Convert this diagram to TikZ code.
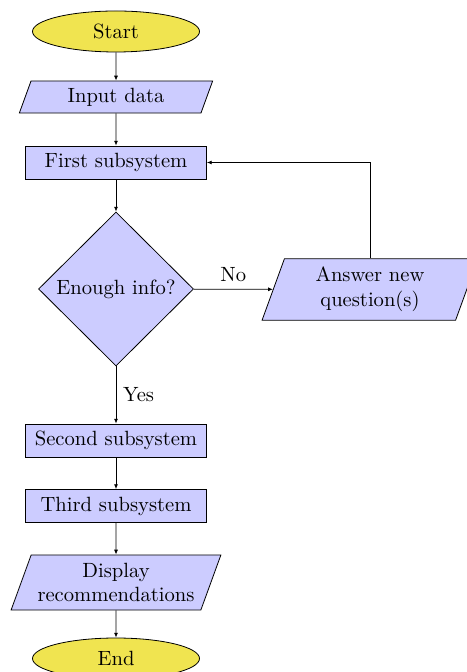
\documentclass[tikz,border=0pt]{standalone}
\definecolor{termyellow}{RGB}{240, 228, 80}
\definecolor{boxblue}{RGB}{204, 204, 255}
\usepackage{tikz}
\usetikzlibrary{shapes, shapes.geometric, arrows.meta, positioning}

\begin{document}
\begin{tikzpicture}[x=0.5pt, y=-0.5pt, font=\fontsize{10.3pt}{12.4pt}\selectfont,
  term/.style={ellipse, draw, fill=termyellow, minimum width=83.5pt, minimum height=20.5pt, inner sep=0pt},
  proc/.style={rectangle, draw, fill=boxblue, minimum width=90.5pt, minimum height=16.5pt, inner sep=0pt},
  io/.style={trapezium, trapezium left angle=70, trapezium right angle=110, draw, fill=boxblue, inner sep=0pt, align=center},
  decide/.style={diamond, draw, fill=boxblue, minimum width=77.5pt, minimum height=77pt, inner sep=0pt},
  flow/.style={-{Latex[length=2.4pt, width=2pt]}}]
  \useasboundingbox (0,0) rectangle (466,672);
  \node[term] (start) at (116, 31.5) {Start};
  \node[io, minimum width=97.5pt, minimum height=16pt] (input) at (116, 97) {Input data};
  \node[proc] (first) at (116, 162.5) {First subsystem};
  \node[decide] (info) at (116, 289) {Enough info?};
  \node[io, inner ysep=-2.5pt, inner xsep=-3pt, minimum width=108pt, minimum height=29.5pt] (answer) at (370, 289.5) {Answer new\\question(s)};
  \node[proc] (second) at (116, 440.5) {Second subsystem};
  \node[proc] (third) at (116, 506) {Third subsystem};
  \node[io, inner xsep=-9pt, minimum width=105pt, minimum height=27.5pt] (display) at (116, 582.5) {Display\\recommendations};
  \node[term] (end) at (116, 658.5) {End};
  % connectors
  \draw[flow] (start) -- (input);
  \draw[flow] (input) -- (first);
  \draw[flow] (first) -- (info);
  \draw[flow] (info) -- node[above] {No} (answer);
  \draw[flow] (answer.north) |- (first.east);
  \draw[flow] (info) -- node[right] {Yes} (second);
  \draw[flow] (second) -- (third);
  \draw[flow] (third) -- (display);
  \draw[flow] (display) -- (end);
\end{tikzpicture}
\end{document}
